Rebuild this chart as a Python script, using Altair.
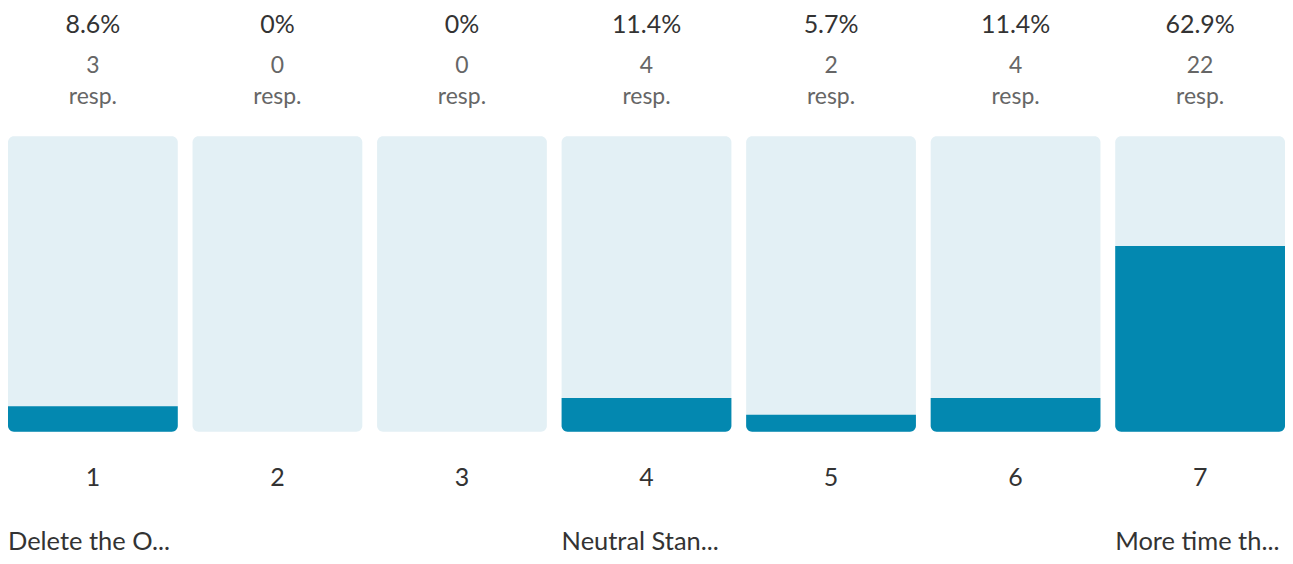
import altair as alt
import pandas as pd

scale_points = ["1", "2", "3", "4", "5", "6", "7"]
percents = [8.6, 0, 0, 11.4, 5.7, 11.4, 62.9]
pct_labels = ["8.6%", "0%", "0%", "11.4%", "5.7%", "11.4%", "62.9%"]
responses = [3, 0, 0, 4, 2, 4, 22]
anchor_points = ["1", "4", "7"]
anchor_labels = ["Delete the O...", "Neutral Stan...", "More time th..."]

df = pd.DataFrame({
    "point": scale_points,
    "pct": percents,
    "pct_label": pct_labels,
    "resp": [str(r) for r in responses],
    "full": [100] * len(scale_points),
    "zero": [0] * len(scale_points),
})
anchors = pd.DataFrame({"point": anchor_points, "label": anchor_labels})

FONT = "Lato"
xs = alt.Scale(domain=scale_points, paddingInner=0.08, paddingOuter=0)
ys = alt.Scale(domain=[0, 100], range=[424, 128])
X = alt.X("point:N", scale=xs, axis=None)

base = alt.Chart(df)

bg = base.mark_rect(color="#e3f0f5", cornerRadius=6).encode(
    x=X, y=alt.Y("zero:Q", scale=ys, axis=None), y2="full:Q"
)
fill = base.mark_rect(color="#0388b0", cornerRadiusBottomLeft=6,
                      cornerRadiusBottomRight=6).encode(
    x=X, y=alt.Y("zero:Q", scale=ys, axis=None), y2="pct:Q"
)
pct_t = base.mark_text(font=FONT, fontSize=25, color="#333333", baseline="alphabetic").encode(
    x=X, y=alt.value(24), text="pct_label:N"
)
resp_t = base.mark_text(font=FONT, fontSize=23, color="#666666", baseline="alphabetic").encode(
    x=X, y=alt.value(65), text="resp:N"
)
resp_word = base.mark_text(font=FONT, fontSize=23, color="#666666", baseline="alphabetic").encode(
    x=X, y=alt.value(96), text=alt.value("resp.")
)
num_t = base.mark_text(font=FONT, fontSize=25, color="#333333", baseline="alphabetic").encode(
    x=X, y=alt.value(478), text="point:N"
)
anchor_t = alt.Chart(anchors).mark_text(font=FONT, fontSize=25.5, color="#333333",
                                        baseline="alphabetic", align="left").encode(
    x=alt.X("point:N", scale=xs, axis=None, bandPosition=0),
    y=alt.value(543), text="label:N"
)

chart = alt.layer(bg, fill, pct_t, resp_t, resp_word, num_t, anchor_t).properties(
    width=1280, height=548, padding=0
).configure_view(stroke=None)

chart.save("out.html", embed_options={"renderer": "svg", "actions": False})
